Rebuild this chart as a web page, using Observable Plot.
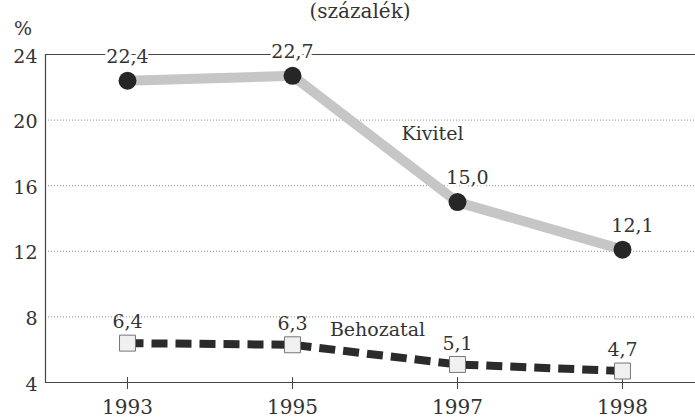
<!DOCTYPE html>
<html>
<head>
<meta charset="utf-8">
<script src="https://cdn.jsdelivr.net/npm/d3@7"></script>
<script src="https://cdn.jsdelivr.net/npm/@observablehq/plot@0.6"></script>
<style>
  body { margin: 0; background: #fff; }
  #wrap { position: relative; width: 695px; height: 419px; overflow: hidden; font-family: "DejaVu Serif", serif; color: #333; }
  #title { position: absolute; left: 0; width: 720px; top: -1px; text-align: center; font-size: 20px; }
  #unit { position: absolute; left: 14px; top: 17px; font-size: 19px; }
  #chart { position: absolute; left: 0; top: 0; }
</style>
</head>
<body>
<div id="wrap">
  <div id="chart"></div>
  <div id="title">(százalék)</div>
  <div id="unit">%</div>
</div>
<script>
const years = ["1993", "1995", "1997", "1998"];
const kivitel = [22.4, 22.7, 15.0, 12.1];
const behozatal = [6.4, 6.3, 5.1, 4.7];
const kivitelLabels = ["22,4", "22,7", "15,0", "12,1"];
const behozatalLabels = ["6,4", "6,3", "5,1", "4,7"];
const yTicks = [4, 8, 12, 16, 20, 24];
const gridTicks = [8, 12, 16, 20];
const seriesNames = ["Kivitel", "Behozatal"];

const kiData = years.map((y, i) => ({year: y, value: kivitel[i], label: kivitelLabels[i]}));
const beData = years.map((y, i) => ({year: y, value: behozatal[i], label: behozatalLabels[i]}));

const font = {fontFamily: "DejaVu Serif", fontSize: 19, fill: "#333"};

const chart = Plot.plot({
  width: 695,
  height: 419,
  marginLeft: 45,
  marginRight: 0,
  marginTop: 54,
  marginBottom: 37,
  style: {fontFamily: "DejaVu Serif", background: "transparent", color: "#333"},
  x: {type: "point", domain: years, range: [126, 623], padding: 0},
  y: {domain: [4, 24]},
  marks: [
    Plot.ruleY(gridTicks, {stroke: "#8a8a8a", strokeDasharray: "1,2", strokeWidth: 1}),
    Plot.ruleY([24], {stroke: "#444", strokeWidth: 1.2}),
    Plot.ruleY([4], {stroke: "#444", strokeWidth: 1.2}),
    Plot.frame({anchor: "left", stroke: "#444", strokeWidth: 1.2}),
    Plot.axisY({ticks: yTicks, tickSize: 0, tickPadding: 8, fontSize: 19, label: null, tickFormat: d => String(d), fill: "#333", dy: 2}),
    Plot.axisX({tickSize: 7, tickPadding: 10, fontSize: 20, label: null, stroke: "#444", fill: "#333"}),
    Plot.ruleX(years, {x: d => d, y1: 4, y2: 4.3, stroke: "#444"}),
    Plot.line(kiData, {x: "year", y: "value", stroke: "#c6c6c6", strokeWidth: 10, strokeLinecap: "butt"}),
    Plot.dot(kiData, {x: "year", y: "value", r: 9, fill: "#262626"}),
    Plot.line(beData, {x: "year", y: "value", stroke: "#2b2b2b", strokeWidth: 8, strokeDasharray: "16,8", strokeLinecap: "butt", strokeLinejoin: "miter"}),
    Plot.dot(beData, {x: "year", y: "value", symbol: "square", r: 9, fill: "#f0f0f0", stroke: "#777", strokeWidth: 1}),
    Plot.text(kiData.slice(0, 2), {x: "year", y: "value", text: "label", dy: -24, ...font, stroke: "white", strokeWidth: 6}),
    Plot.text(kiData.slice(2), {x: "year", y: "value", text: "label", dx: 10, dy: -24, ...font, stroke: "white", strokeWidth: 4}),
    Plot.text(beData, {x: "year", y: "value", text: "label", dy: -21, ...font}),
    Plot.text([kiData[2]], {x: "year", y: "value", text: () => seriesNames[0], dx: -25, dy: -68, ...font}),
    Plot.text([beData[1]], {x: "year", y: "value", text: () => seriesNames[1], dx: 85, dy: -15, ...font})
  ]
});
document.getElementById("chart").appendChild(chart);
</script>
</body>
</html>
